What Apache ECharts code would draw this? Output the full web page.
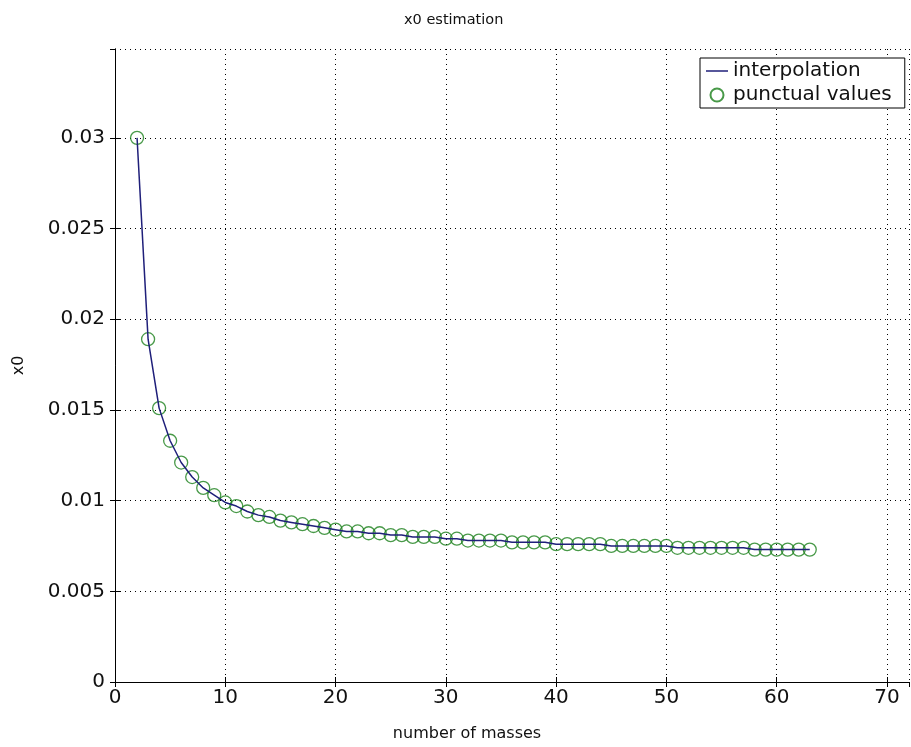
<!DOCTYPE html>
<html>
<head>
<meta charset="utf-8">
<script src="https://cdn.jsdelivr.net/npm/echarts@6/dist/echarts.min.js"></script>
<style>html,body{margin:0;padding:0;background:#fff}#c{width:911px;height:747px}</style>
</head>
<body>
<div id="c"></div>
<script>
const masses = [2,3,4,5,6,7,8,9,10,11,12,13,14,15,16,17,18,19,20,21,22,23,24,25,26,27,28,29,30,31,32,33,34,35,36,37,38,39,40,41,42,43,44,45,46,47,48,49,50,51,52,53,54,55,56,57,58,59,60,61,62,63];
const x0Values = [0.0300,0.0189,0.0151,0.0133,0.0121,0.0113,0.0107,0.0103,0.0099,0.0097,0.0094,0.0092,0.0091,0.0089,0.0088,0.0087,0.0086,0.0085,0.0084,0.0083,0.0083,0.0082,0.0082,0.0081,0.0081,0.0080,0.0080,0.0080,0.0079,0.0079,0.0078,0.0078,0.0078,0.0078,0.0077,0.0077,0.0077,0.0077,0.0076,0.0076,0.0076,0.0076,0.0076,0.0075,0.0075,0.0075,0.0075,0.0075,0.0075,0.0074,0.0074,0.0074,0.0074,0.0074,0.0074,0.0074,0.0073,0.0073,0.0073,0.0073,0.0073,0.0073];
const titleText = 'x0 estimation';
const xName = 'number of masses';
const yName = 'x0';
const seriesNames = ['interpolation','punctual values'];

const pts = masses.map((m,i)=>[m,x0Values[i]]);
const FONT = 'DejaVu Sans';
const tick = {fontFamily: FONT, fontSize: 20, color: '#111'};
const chart = echarts.init(document.getElementById('c'), null, {renderer:'canvas'});
chart.setOption({
  animation:false,
  backgroundColor:'#fff',
  title:{text:titleText, left:399, top:8, textStyle:{fontFamily:FONT, fontSize:14.5, fontWeight:'normal', color:'#111'}},
  grid:{left:115, top:49, right:2, bottom:65, containLabel:false},
  legend:{
    orient:'vertical', left:700, top:58, padding:[3,13,3,6], itemGap:4,
    borderColor:'#000', borderWidth:1, backgroundColor:'#fff',
    itemWidth:22, itemHeight:13,
    textStyle:Object.assign({}, tick),
    data:[{name:seriesNames[0], icon:'path://M0,0 L22,0 L22,1.5 L0,1.5 Z', itemStyle:{color:'#1f1f7a'}},{name:seriesNames[1], icon:'circle'}]
  },
  xAxis:[{
    type:'value', min:0, max:72, interval:10, name:xName, nameLocation:'middle', nameGap:44,
    nameTextStyle:{fontFamily:FONT, fontSize:16, color:'#111', padding:[0,90,0,0]},
    axisLine:{show:true, lineStyle:{color:'#000', width:1}},
    axisTick:{show:true, inside:true, length:5, lineStyle:{color:'#000'}},
    axisLabel:Object.assign({show:true, showMaxLabel:false, margin:6}, tick),
    splitLine:{show:true, lineStyle:{color:'#000', type:[1,4], width:1}}
  },{
    type:'value', min:0, max:72, interval:10, position:'top',
    axisLine:{show:true, lineStyle:{color:'#000', width:1}},
    axisTick:{show:true, inside:true, length:5, lineStyle:{color:'#000'}},
    axisLabel:{show:false}, splitLine:{show:false}
  }],
  yAxis:[{
    type:'value', min:0, max:0.0349, interval:0.005, name:yName, nameLocation:'middle', nameGap:88, nameRotate:90,
    nameTextStyle:{fontFamily:FONT, fontSize:16, color:'#111'},
    axisLine:{show:true, lineStyle:{color:'#000', width:1}},
    axisTick:{show:true, inside:true, length:5, lineStyle:{color:'#000'}},
    axisLabel:Object.assign({show:true, showMaxLabel:false, margin:10, formatter:v=>String(+v.toFixed(4))}, tick),
    splitLine:{show:true, lineStyle:{color:'#000', type:[1,4], width:1}}
  },{
    type:'value', min:0, max:0.0349, interval:0.005, position:'right',
    axisLine:{show:true, lineStyle:{color:'#000', width:1}},
    axisTick:{show:true, inside:true, length:5, lineStyle:{color:'#000'}},
    axisLabel:{show:false}, splitLine:{show:false}
  }],
  series:[{
    name:seriesNames[0], type:'line', data:pts, symbol:'none', smooth:false,
    lineStyle:{color:'#1f1f7a', width:1.5}, itemStyle:{color:'#1f1f7a'}, z:3
  },{
    name:seriesNames[1], type:'scatter', data:pts, symbol:'circle', symbolSize:13,
    itemStyle:{color:'rgba(0,0,0,0)', borderColor:'#1a7f1a', borderWidth:1.3}, z:2
  }]
});
</script>
</body>
</html>
